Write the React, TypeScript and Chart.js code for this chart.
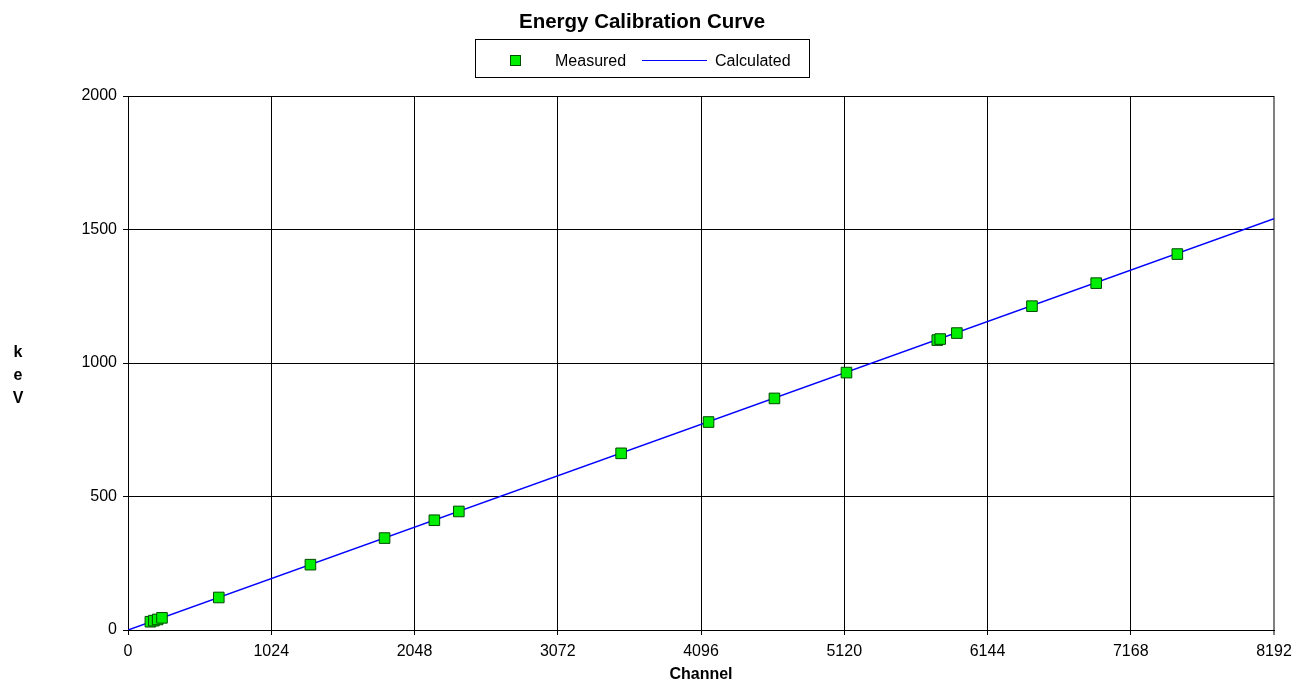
import React, { useEffect, useRef } from "react";
import { Chart, registerables } from "chart.js";

Chart.register(...registerables);

const measuredChannels = [160, 185, 212, 243, 649, 1304, 1834, 2190, 2365, 3525, 4150, 4621, 5136, 5785, 5806, 5925, 6462, 6921, 7501];
const measuredKeV = [31, 35, 39.5, 45.5, 121.8, 244.7, 344.3, 411.1, 444.0, 661.7, 778.9, 867.4, 964.1, 1085.8, 1089.7, 1112.1, 1212.9, 1299.1, 1408.0];
const calcChannels = [0, 8192];
const calcKeV = [0, 1540];
const xTicks = [0, 1024, 2048, 3072, 4096, 5120, 6144, 7168, 8192];
const yTicks = [0, 500, 1000, 1500, 2000];

const FONT = '"Liberation Sans", Arial, sans-serif';

const overlay = {
  id: "overlay",
  afterDraw(chart: any) {
    const ctx = chart.ctx;
    ctx.save();
    ctx.fillStyle = "#000";
    ctx.textAlign = "center";
    ctx.textBaseline = "alphabetic";
    ctx.font = `bold 20.5px ${FONT}`;
    ctx.fillText("Energy Calibration Curve", 642, 28);

    // legend box
    ctx.strokeStyle = "#000";
    ctx.lineWidth = 1;
    ctx.strokeRect(475.5, 39.5, 334, 38);
    // marker
    ctx.fillStyle = "#00ee00";
    ctx.fillRect(510.5, 55.5, 10, 10);
    ctx.strokeStyle = "#005000";
    ctx.strokeRect(510.5, 55.5, 10, 10);
    ctx.fillStyle = "#000";
    ctx.font = `16px ${FONT}`;
    ctx.textAlign = "left";
    ctx.fillText("Measured", 555, 66);
    ctx.strokeStyle = "#0000ff";
    ctx.beginPath();
    ctx.moveTo(642, 60.5);
    ctx.lineTo(707, 60.5);
    ctx.stroke();
    ctx.fillText("Calculated", 715, 66);

    // y-axis title stacked
    ctx.font = `bold 16px ${FONT}`;
    ctx.textAlign = "center";
    ["k", "e", "V"].forEach((ch, i) => {
      ctx.fillText(ch, 18, 357 + i * 23);
    });
    ctx.restore();
  },
};

export default function App() {
  const ref = useRef<HTMLCanvasElement>(null);
  useEffect(() => {
    document.body.style.margin = "0";
    const chart = new Chart(ref.current!, {
      type: "scatter",
      data: {
        datasets: [
          {
            label: "Measured",
            data: measuredChannels.map((c, i) => ({ x: c, y: measuredKeV[i] })),
            pointStyle: "rect",
            pointRadius: 7.5,
            backgroundColor: "#00ee00",
            borderColor: "#004a00",
            borderWidth: 1,
          },
          {
            label: "Calculated",
            data: calcChannels.map((c, i) => ({ x: c, y: calcKeV[i] })),
            showLine: true,
            pointRadius: 0,
            borderColor: "#0000ff",
            borderWidth: 1.5,
          },
        ],
      },
      options: {
        animation: false,
        responsive: false,
        layout: { padding: { top: 96, right: 42, left: 0, bottom: 0 } },
        plugins: {
          legend: { display: false },
          title: { display: false },
          tooltip: { enabled: false },
        },
        scales: {
          x: {
            type: "linear",
            min: 0,
            max: 8192,
            afterBuildTicks: (s: any) => {
              s.ticks = xTicks.map((v) => ({ value: v }));
            },
            afterFit: (s: any) => {
              s.height = 66;
            },
            ticks: {
              color: "#000",
              font: { family: FONT, size: 16 },
              padding: 7,
              maxRotation: 0,
              autoSkip: false,
              callback: (v: any) => String(v),
            },
            grid: {
              color: (c: any) => (c.tick && c.tick.value === 8192 ? "#808080" : "#000"),
              lineWidth: (c: any) => (c.tick && c.tick.value === 8192 ? 2 : 1),
              tickLength: 5,
            },
            border: { color: "#000", width: 1 },
            title: {
              display: true,
              text: "Channel",
              color: "#000",
              font: { family: FONT, size: 16, weight: "bold" },
              padding: { top: 12, bottom: 12 },
            },
          },
          y: {
            type: "linear",
            min: 0,
            max: 2000,
            afterBuildTicks: (s: any) => {
              s.ticks = yTicks.map((v) => ({ value: v }));
            },
            afterFit: (s: any) => {
              s.width = 128;
            },
            ticks: {
              color: "#000",
              font: { family: FONT, size: 16 },
              padding: 6,
              callback: (v: any) => String(v),
            },
            grid: { color: "#000", lineWidth: 1, tickLength: 5 },
            border: { color: "#000", width: 1 },
          },
        },
      },
      plugins: [overlay],
    });
    return () => chart.destroy();
  }, []);
  return <canvas ref={ref} width={1316} height={696} style={{ display: "block" }} />;
}
